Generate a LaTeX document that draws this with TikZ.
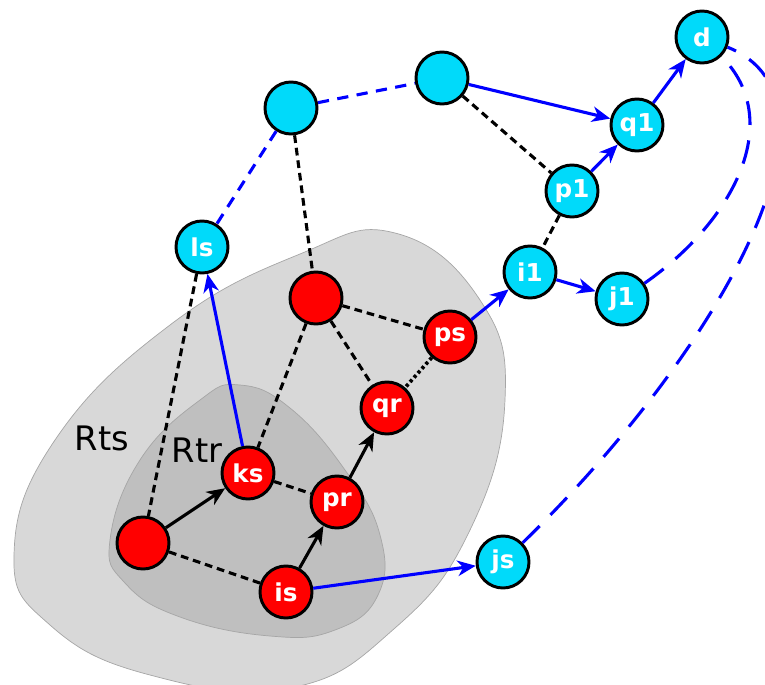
\documentclass[tikz,border=0pt]{standalone}
\usepackage{fontspec}
\setmainfont{DejaVu Sans}
\usetikzlibrary{arrows.meta}
\definecolor{outerColor}{RGB}{0,218,250}
\definecolor{regionLight}{RGB}{216,216,216}
\definecolor{regionDark}{RGB}{191,191,191}
\tikzstyle{pixels} = [x = 0.025cm, y = -0.025cm]
\tikzstyle{vertex} = [circle, draw=black, line width=2.1pt, minimum size=1.3cm, inner sep=0pt, text=white, font=\bfseries\fontsize{17.5}{18}\selectfont]
\tikzstyle{outerVertex} = [vertex, fill=outerColor]
\tikzstyle{innerVertex} = [vertex, fill=red]
\tikzstyle{region} = [draw=black!35, line width=0.5pt]
\tikzstyle{regionText} = [font=\fontsize{24}{26}\selectfont]
\tikzstyle{tieLine} = [line width=2.2pt, dash pattern=on 5.5pt off 3.5pt]
\tikzstyle{dotLine} = [line width=2.6pt, dash pattern=on 2.2pt off 2pt]
\tikzstyle{moveLine} = [line width=2.2pt, -{Stealth[length=13pt, width=11pt, inset=4pt]}]
\tikzstyle{blueMove} = [moveLine, blue]
\tikzstyle{blueTie} = [blue, line width=2.2pt, dash pattern=on 8pt off 6pt]
\tikzstyle{blueLong} = [blue, line width=2.2pt, dash pattern=on 17pt off 11pt]

\begin{document}
\begin{tikzpicture}[pixels]
  \useasboundingbox (0,0) rectangle (765,685);

  % regions
  \filldraw [region, fill=regionLight] plot [smooth cycle, tension=0.75] coordinates
    {(14,555) (55,440) (170,325) (300,254) (395,233) (480,300) (505,400) (470,530) (395,628) (290,688) (150,675) (50,625)};
  \filldraw [region, fill=regionDark] plot [smooth cycle, tension=0.75] coordinates
    {(110,540) (140,460) (200,400) (240,385) (290,408) (345,470) (380,535) (378,595) (335,630) (270,636) (180,617) (125,583)};
  \node [regionText] (rts) at (102,438) {Rts};
  \node [regionText] (rtr) at (197,450) {Rtr};

  % vertices
  \node [outerVertex] (v1) at (291,108) {};
  \node [outerVertex] (v2) at (442,78) {};
  \node [outerVertex] (d) at (702,37) {d};
  \node [outerVertex] (q1) at (637,125) {q1};
  \node [outerVertex] (p1) at (572,191) {p1};
  \node [outerVertex] (i1) at (530,272) {i1};
  \node [outerVertex] (j1) at (622,299) {j1};
  \node [outerVertex] (ls) at (202,247) {ls};
  \node [outerVertex] (js) at (503,562) {js};
  \node [innerVertex] (r1) at (316,298) {};
  \node [innerVertex] (ps) at (450,337) {ps};
  \node [innerVertex] (qr) at (387,408) {qr};
  \node [innerVertex] (ks) at (248,473) {ks};
  \node [innerVertex] (pr) at (337,502) {pr};
  \node [innerVertex] (r0) at (143,543) {};
  \node [innerVertex] (is) at (286,592) {is};

  % ties
  \draw [blueTie] (v1) -- (v2);
  \draw [blueTie] (v1) -- (ls);
  \draw [tieLine] (v1) -- (r1);
  \draw [tieLine] (v2) -- (p1);
  \draw [tieLine] (p1) -- (i1);
  \draw [tieLine] (ls) -- (r0);
  \draw [tieLine] (r1) -- (ks);
  \draw [tieLine] (r1) -- (ps);
  \draw [tieLine] (r1) -- (qr);
  \draw [dotLine] (ps) -- (qr);
  \draw [tieLine] (r0) -- (is);
  \draw [tieLine] (ks) -- (pr);
  \draw [blueLong] (j1) .. controls (735,220) and (785,120) .. (d);
  \draw [blueLong] (js) .. controls (720,350) and (860,100) .. (d);

  % moves
  \draw [blueMove] (v2) -- (q1);
  \draw [blueMove] (p1) -- (q1);
  \draw [blueMove] (q1) -- (d);
  \draw [blueMove] (i1) -- (j1);
  \draw [blueMove] (ps) -- (i1);
  \draw [blueMove] (is) -- (js);
  \draw [blueMove] (ks) -- (ls);
  \draw [moveLine] (r0) -- (ks);
  \draw [moveLine] (is) -- (pr);
  \draw [moveLine] (pr) -- (qr);
\end{tikzpicture}
\end{document}
